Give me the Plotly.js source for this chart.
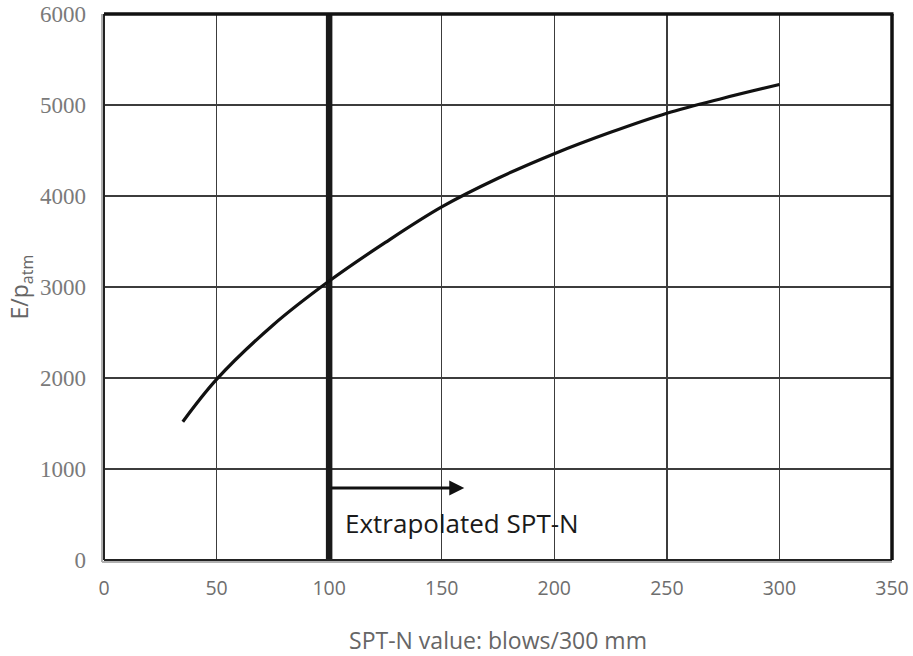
<!DOCTYPE html>
<html>
<head>
<meta charset="utf-8">
<script src="https://cdn.plot.ly/plotly-3.0.1.min.js"></script>
<style>
  html, body { margin: 0; padding: 0; background: #fff; }
  #chart { width: 913px; height: 656px; }
</style>
</head>
<body>
<div id="chart"></div>
<script>
// ---- data ----
const sptN = [35, 50, 75, 100, 125, 150, 175, 200, 225, 250, 275, 300];
const ePatm = [1520, 1985, 2580, 3065, 3490, 3880, 4195, 4465, 4700, 4910, 5075, 5225];
const extrapLineN = [100, 100];
const extrapLineE = [0, 6000];
const arrowFromN = 100;
const arrowToN = 160;
const arrowE = 790;
const labelN = 106;
const labelE = 405;
const labelText = 'Extrapolated SPT-N';
const xTickVals = [0, 50, 100, 150, 200, 250, 300, 350];
const yTickVals = [0, 1000, 2000, 3000, 4000, 5000, 6000];
const xTitle = 'SPT-N value: blows/300 mm';
const yTitle = 'E/p<sub>atm</sub>';

const plotW = 913 - 104 - 20.5;
const plotH = 656 - 13.5 - 96;
const px = 1 / plotW, py = 1 / plotH;

const traces = [
  {
    x: extrapLineN, y: extrapLineE, mode: 'lines', type: 'scatter',
    line: { color: '#1a1a1a', width: 6.5 }, hoverinfo: 'skip', showlegend: false
  },
  {
    x: sptN, y: ePatm, mode: 'lines', type: 'scatter',
    line: { color: '#111111', width: 3.2, shape: 'spline', smoothing: 1 },
    showlegend: false
  }
];

const layout = {
  width: 913, height: 656,
  margin: { l: 104, r: 20.5, t: 13.5, b: 96 },
  paper_bgcolor: '#ffffff', plot_bgcolor: '#ffffff',
  showlegend: false,
  xaxis: {
    range: [0, 350], tickvals: xTickVals, ticktext: xTickVals.map(String),
    showgrid: true, gridcolor: '#3c3c3c', gridwidth: 1.3, zeroline: false,
    showline: false, ticks: '', ticklabelstandoff: 14,
    tickfont: { family: 'Open Sans', size: 19.5, color: '#6e6e6e' },
    title: { text: xTitle, standoff: 36, font: { family: 'Open Sans', size: 23, color: '#666666' } }
  },
  yaxis: {
    range: [0, 6000], tickvals: yTickVals, ticktext: yTickVals.map(String),
    showgrid: true, gridcolor: '#3c3c3c', gridwidth: 1.3, zeroline: false,
    showline: false, ticks: '', ticklabelstandoff: 17,
    tickfont: { family: 'Liberation Serif', size: 23, color: '#7a7a7a' },
    title: { text: yTitle, standoff: 4, font: { family: 'Open Sans', size: 23, color: '#666666' } }
  },
  shapes: [
    { type: 'line', xref: 'paper', yref: 'paper', x0: -2 * px, x1: -2 * px, y0: -2 * py, y1: 1, line: { color: '#b0b0b0', width: 2 } },
    { type: 'line', xref: 'paper', yref: 'paper', x0: 0, x1: 0, y0: 0, y1: 1, line: { color: '#222222', width: 2 } },
    { type: 'line', xref: 'paper', yref: 'paper', x0: -2 * px, x1: 1, y0: -2 * py, y1: -2 * py, line: { color: '#b0b0b0', width: 2 } },
    { type: 'line', xref: 'paper', yref: 'paper', x0: 0, x1: 1, y0: 0, y1: 0, line: { color: '#222222', width: 2 } },
    { type: 'line', xref: 'paper', yref: 'paper', x0: 0, x1: 1 + 1.5 * px, y0: 1, y1: 1, line: { color: '#111111', width: 3.5 } },
    { type: 'line', xref: 'paper', yref: 'paper', x0: 1, x1: 1, y0: 0, y1: 1, line: { color: '#111111', width: 3.5 } }
  ],
  annotations: [
    {
      x: arrowToN, y: arrowE, ax: arrowFromN, ay: arrowE, axref: 'x', ayref: 'y', xref: 'x', yref: 'y',
      text: '', showarrow: true, arrowhead: 2, arrowsize: 1, arrowwidth: 3, arrowcolor: '#111111'
    },
    {
      x: labelN, y: labelE, xref: 'x', yref: 'y', xanchor: 'left', yanchor: 'middle',
      text: labelText, showarrow: false,
      font: { family: 'Open Sans', size: 26, color: '#1a1a1a' }
    }
  ]
};

Plotly.newPlot('chart', traces, layout, { displayModeBar: false, staticPlot: true });
</script>
</body>
</html>
